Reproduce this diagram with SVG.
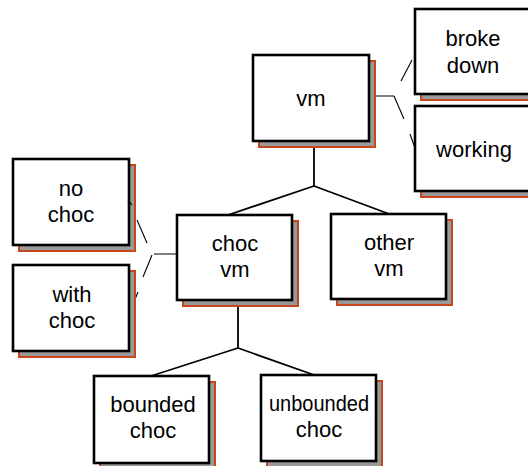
<svg xmlns="http://www.w3.org/2000/svg" width="528" height="466" viewBox="0 0 528 466">
  <defs>
    <style>
      .shadow { fill: #999999; stroke: #c8461a; stroke-width: 2; }
      .box { fill: #ffffff; stroke: #000000; stroke-width: 2.6; }
      .label { font-family: "Liberation Sans", Arial, sans-serif; font-size: 22px; fill: #000000; text-anchor: middle; }
      .tree { fill: none; stroke: #000000; stroke-width: 1.8; }
      .side { fill: none; stroke: #000000; stroke-width: 1.1; }
    </style>
  </defs>
  <rect width="528" height="466" fill="#ffffff"/>

  <!-- connectors -->
  <g id="connectors">
    <path class="tree" d="M314,141 V186 M314,186 L228,215 M314,186 L392,215"/>
    <path class="tree" d="M238,300 V348 M238,348 L151,376 M238,348 L317,376"/>
    <!-- vm to its states -->
    <path class="side" d="M369,96 H394 M401,81 L412,60 M394,96 L404,119 M410,134 L415,148"/>
    <!-- choc vm to its options -->
    <path class="side" d="M177,254 H154 M147,243 L137,220 M152,255 L143,277 M138,292 L131,309"/>
  </g>

  <g id="node-vm">
    <rect class="shadow" x="259" y="61" width="116" height="86"/>
    <rect class="box" x="253" y="55" width="116" height="86"/>
    <text class="label" x="311" y="106">vm</text>
  </g>

  <g id="node-broke-down">
    <rect class="shadow" x="421" y="15" width="116" height="85"/>
    <rect class="box" x="415" y="9" width="116" height="85"/>
    <text class="label" x="473" y="46">broke</text>
    <text class="label" x="473" y="73">down</text>
  </g>

  <g id="node-working">
    <rect class="shadow" x="421" y="112" width="116" height="85"/>
    <rect class="box" x="415" y="106" width="116" height="85"/>
    <text class="label" x="474" y="157">working</text>
  </g>

  <g id="node-no-choc">
    <rect class="shadow" x="19" y="165" width="116" height="86"/>
    <rect class="box" x="13" y="159" width="116" height="86"/>
    <text class="label" x="71" y="196">no</text>
    <text class="label" x="71" y="222">choc</text>
  </g>

  <g id="node-with-choc">
    <rect class="shadow" x="19" y="271" width="116" height="86"/>
    <rect class="box" x="13" y="265" width="116" height="86"/>
    <text class="label" x="72" y="302">with</text>
    <text class="label" x="72" y="328">choc</text>
  </g>

  <g id="node-choc-vm">
    <rect class="shadow" x="183" y="221" width="115" height="85"/>
    <rect class="box" x="177" y="215" width="115" height="85"/>
    <text class="label" x="235" y="251">choc</text>
    <text class="label" x="235" y="277">vm</text>
  </g>

  <g id="node-other-vm">
    <rect class="shadow" x="337" y="220" width="115" height="85"/>
    <rect class="box" x="331" y="214" width="115" height="85"/>
    <text class="label" x="389" y="250">other</text>
    <text class="label" x="389" y="276">vm</text>
  </g>

  <g id="node-bounded-choc">
    <rect class="shadow" x="100" y="382" width="115" height="87"/>
    <rect class="box" x="94" y="376" width="115" height="87"/>
    <text class="label" x="153" y="412">bounded</text>
    <text class="label" x="153" y="438">choc</text>
  </g>

  <g id="node-unbounded-choc">
    <rect class="shadow" x="267" y="381" width="115" height="86"/>
    <rect class="box" x="261" y="375" width="115" height="86"/>
    <text class="label" x="319" y="411" textLength="100" lengthAdjust="spacingAndGlyphs">unbounded</text>
    <text class="label" x="319" y="437">choc</text>
  </g>

  <!-- short stub of the no-choc connector, drawn over the shadow -->
  <path class="side" d="M132,205 L128,200"/>
</svg>
